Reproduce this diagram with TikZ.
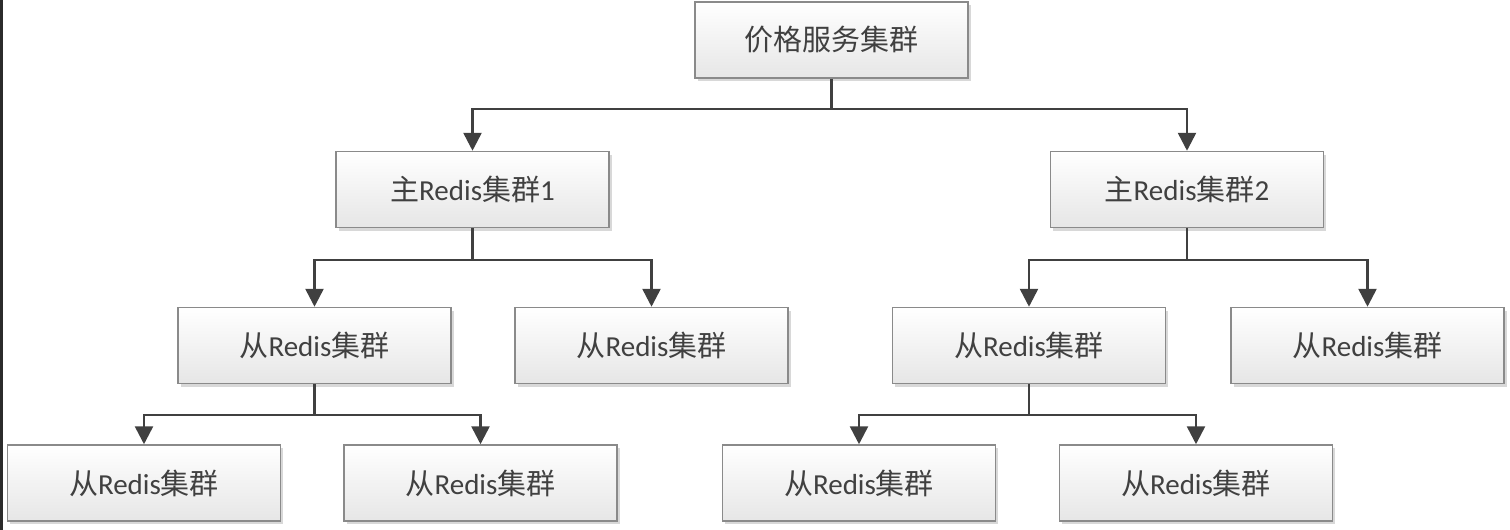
\documentclass[tikz,border=0pt]{standalone}
\usepackage{fontspec}
\setmainfont{Carlito}
\newfontfamily\cjk{Noto Sans CJK SC}
\usetikzlibrary{arrows.meta,shadows}
\definecolor{boxborder}{HTML}{8A8A8A}
\definecolor{boxbot}{HTML}{E6E6E6}
\definecolor{txt}{HTML}{404040}
\definecolor{linec}{HTML}{404040}
\definecolor{strip}{HTML}{2B2B2B}
\newcommand{\slave}{{\cjk 从}Redis{\cjk 集群}}
\begin{document}
\begin{tikzpicture}[x=1pt,y=-1pt,
  box/.style={draw=boxborder, line width=1.5pt, top color=white, bottom color=boxbot,
    minimum width=273pt, minimum height=76pt, inner sep=0pt,
    font=\fontsize{29}{33}\selectfont, text=txt,
    drop shadow={shadow xshift=2.5pt, shadow yshift=-3pt, fill=black!30, opacity=0.5}},
  wire/.style={line width=2.6pt, draw=linec},
  conn/.style={wire, -{Triangle[length=18pt,width=18pt]}}]
\useasboundingbox (0,0) rectangle (1510,530);
\fill[strip] (0,0) rectangle (3,530);

\node[box] (top) at (831.5,40) {{\cjk 价格服务集群}};
\node[box] (m1) at (472.5,189.5) {{\cjk 主}Redis{\cjk 集群}1};
\node[box] (m2) at (1187,189.5) {{\cjk 主}Redis{\cjk 集群}2};
\node[box] (s1) at (314.5,345.5) {\slave};
\node[box] (s2) at (651.5,345.5) {\slave};
\node[box] (s3) at (1029,345.5) {\slave};
\node[box] (s4) at (1367.5,345.5) {\slave};
\node[box] (t1) at (144,483) {\slave};
\node[box] (t2) at (480.5,483) {\slave};
\node[box] (t3) at (859,483) {\slave};
\node[box] (t4) at (1196,483) {\slave};

\coordinate (j0) at (831.5,109);
\coordinate (j1) at (472.5,260);
\coordinate (j2) at (1187,260);
\coordinate (j3) at (314.5,415);
\coordinate (j4) at (1029,415);

\draw[wire] (top.south) -- (j0);
\draw[conn] (j0) -| (m1.north);
\draw[conn] (j0) -| (m2.north);
\draw[wire] (m1.south) -- (j1);
\draw[conn] (j1) -| (s1.north);
\draw[conn] (j1) -| (s2.north);
\draw[wire] (m2.south) -- (j2);
\draw[conn] (j2) -| (s3.north);
\draw[conn] (j2) -| (s4.north);
\draw[wire] (s1.south) -- (j3);
\draw[conn] (j3) -| (t1.north);
\draw[conn] (j3) -| (t2.north);
\draw[wire] (s3.south) -- (j4);
\draw[conn] (j4) -| (t3.north);
\draw[conn] (j4) -| (t4.north);
\end{tikzpicture}
\end{document}
